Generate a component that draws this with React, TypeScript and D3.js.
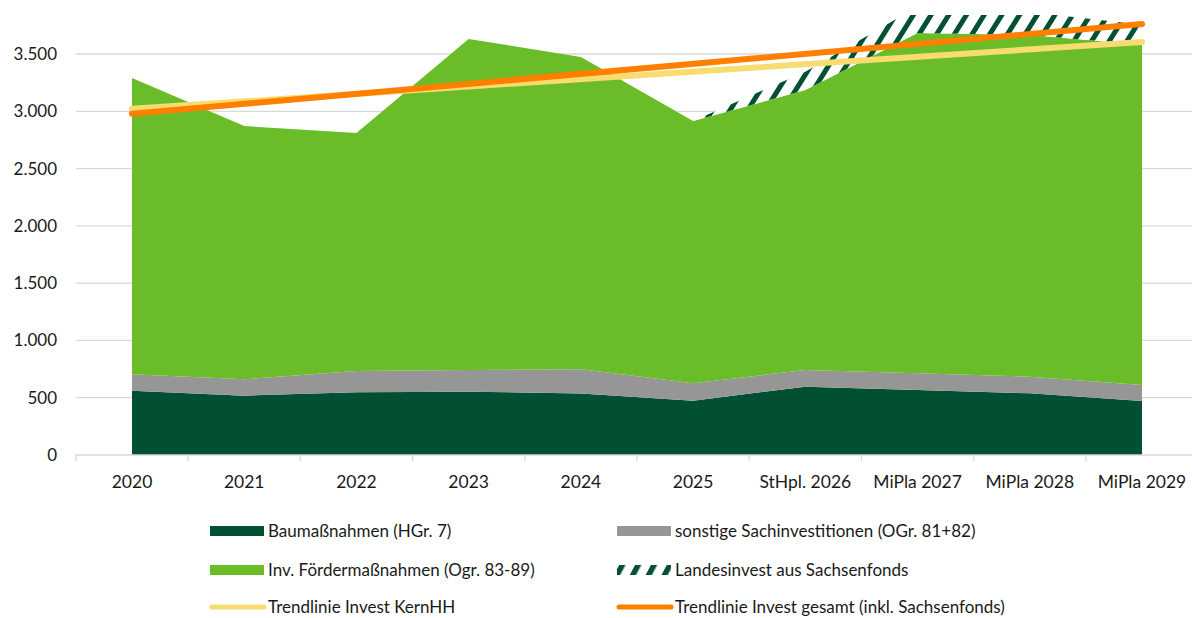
import React from "react";
import * as d3 from "d3";

const categories = ["2020", "2021", "2022", "2023", "2024", "2025", "StHpl. 2026", "MiPla 2027", "MiPla 2028", "MiPla 2029"];
const baumassnahmen = [561, 518, 547, 553, 537, 474, 596, 567, 538, 471];
const sonstige = [143, 143, 186, 189, 212, 152, 146, 146, 146, 140];
const foerder = [2586, 2210, 2077, 2889, 2725, 2289, 2444, 2970, 2982, 2969];
const sachsenfonds = [0, 0, 0, 0, 0, 0, 160, 230, 200, 175];
const trendKernHH = [3022, 3605]; // first and last category
const trendGesamt = [2978, 3762];
const yTicks = [0, 500, 1000, 1500, 2000, 2500, 3000, 3500];
const legendLabels = [
  "Baumaßnahmen (HGr. 7)",
  "sonstige Sachinvestitionen (OGr. 81+82)",
  "Inv. Fördermaßnahmen (Ogr. 83-89)",
  "Landesinvest aus Sachsenfonds",
  "Trendlinie Invest KernHH",
  "Trendlinie Invest gesamt (inkl. Sachsenfonds)",
];

const C = {
  dark: "#005031",
  gray: "#969696",
  green: "#6abd28",
  yellow: "#f8dc70",
  orange: "#ff7f00",
  grid: "#d9d9d9",
  text: "#1a1a1a",
};
const FONT = "Lato, 'Open Sans', sans-serif";

export default function App() {
  const W = 1192, H = 618;
  const x = d3.scalePoint<string>().domain(categories).range([132, 1142]);
  const y = d3.scaleLinear().domain([0, 3500]).range([455, 54]);
  const step = x.step();

  const rows = categories.map((c, i) => ({
    cat: c,
    bau: baumassnahmen[i],
    sonst: sonstige[i],
    foerder: foerder[i],
    sachsen: sachsenfonds[i],
  }));
  const keys = ["bau", "sonst", "foerder", "sachsen"];
  const stack = d3.stack<any>().keys(keys)(rows);
  const area = d3
    .area<any>()
    .x((d) => x(d.data.cat) as number)
    .y0((d) => y(d[0]))
    .y1((d) => y(d[1]));
  const fills: Record<string, string> = {
    bau: C.dark,
    sonst: C.gray,
    foerder: C.green,
    sachsen: "url(#hatch)",
  };

  const first = categories[0];
  const last = categories[categories.length - 1];
  const line = d3
    .line<[string, number]>()
    .x((d) => x(d[0]) as number)
    .y((d) => y(d[1]));

  const tickXs = d3.range(categories.length + 1).map((i) => (x(first) as number) - step / 2 + i * step);

  const legendCols = [210, 617];
  const legendRows = [531, 570, 607];

  const swatch = (i: number, lx: number, ly: number) => {
    if (i === 0) return <rect x={lx} y={ly - 5} width={54} height={10} fill={C.dark} />;
    if (i === 1) return <rect x={lx} y={ly - 5} width={54} height={10} fill={C.gray} />;
    if (i === 2) return <rect x={lx} y={ly - 5} width={54} height={10} fill={C.green} />;
    if (i === 3) return <rect x={lx} y={ly - 5} width={54} height={10} fill="url(#hatchLegend)" />;
    if (i === 4)
      return <line x1={lx + 2} x2={lx + 54} y1={ly} y2={ly} stroke={C.yellow} strokeWidth={5} strokeLinecap="round" />;
    return <line x1={lx + 2} x2={lx + 54} y1={ly} y2={ly} stroke={C.orange} strokeWidth={5} strokeLinecap="round" />;
  };

  return (
    <svg
      width={W}
      height={H}
      style={{ position: "absolute", left: 0, top: 0, background: "#fff" }}
      fontFamily={FONT}
    >
      <defs>
        <pattern id="hatch" patternUnits="userSpaceOnUse" width={15} height={15} patternTransform="rotate(32)">
          <rect width={15} height={15} fill="#fff" />
          <rect x={0} y={0} width={5} height={15} fill={C.dark} />
        </pattern>
        <pattern id="hatchLegend" patternUnits="userSpaceOnUse" width={14} height={14} patternTransform="rotate(28)">
          <rect width={14} height={14} fill="#fff" />
          <rect x={0} y={0} width={5.5} height={14} fill={C.dark} />
        </pattern>
        <clipPath id="plotClip">
          <rect x={0} y={15} width={W} height={455 - 15} />
        </clipPath>
      </defs>

      {/* gridlines */}
      {yTicks.slice(1).map((t) => (
        <line key={t} x1={tickXs[0]} x2={W} y1={y(t)} y2={y(t)} stroke={C.grid} strokeWidth={1.3} />
      ))}

      <g clipPath="url(#plotClip)">
        {stack.map((s) => (
          <path key={s.key} d={area(s) as string} fill={fills[s.key]} />
        ))}
      </g>

      {/* x axis */}
      <line x1={tickXs[0]} x2={W} y1={y(0)} y2={y(0)} stroke={C.grid} strokeWidth={1.3} />
      {tickXs.map((tx, i) => (
        <line key={i} x1={tx} x2={tx} y1={y(0)} y2={y(0) + 6} stroke={C.grid} strokeWidth={1.3} />
      ))}
      {categories.map((c) => (
        <text key={c} x={x(c)} y={488} textAnchor="middle" fontSize={17.5} fill={C.text}>
          {c}
        </text>
      ))}

      {/* y axis labels */}
      {yTicks.map((t) => (
        <text key={t} x={57} y={y(t) + 6} textAnchor="end" fontSize={17} fill={C.text}>
          {d3.format(",")(t).replace(/,/g, ".")}
        </text>
      ))}

      {/* trendlines */}
      <path
        d={line([[first, trendKernHH[0]], [last, trendKernHH[1]]]) as string}
        stroke={C.yellow}
        strokeWidth={6}
        strokeLinecap="round"
        fill="none"
      />
      <path
        d={line([[first, trendGesamt[0]], [last, trendGesamt[1]]]) as string}
        stroke={C.orange}
        strokeWidth={6}
        strokeLinecap="round"
        fill="none"
      />

      {/* legend */}
      {legendLabels.map((lab, i) => {
        const lx = legendCols[i % 2];
        const ly = legendRows[Math.floor(i / 2)];
        return (
          <g key={lab}>
            {swatch(i, lx, ly)}
            <text x={lx + 58} y={ly + 6} fontSize={17} fill={C.text}>
              {lab}
            </text>
          </g>
        );
      })}
    </svg>
  );
}
